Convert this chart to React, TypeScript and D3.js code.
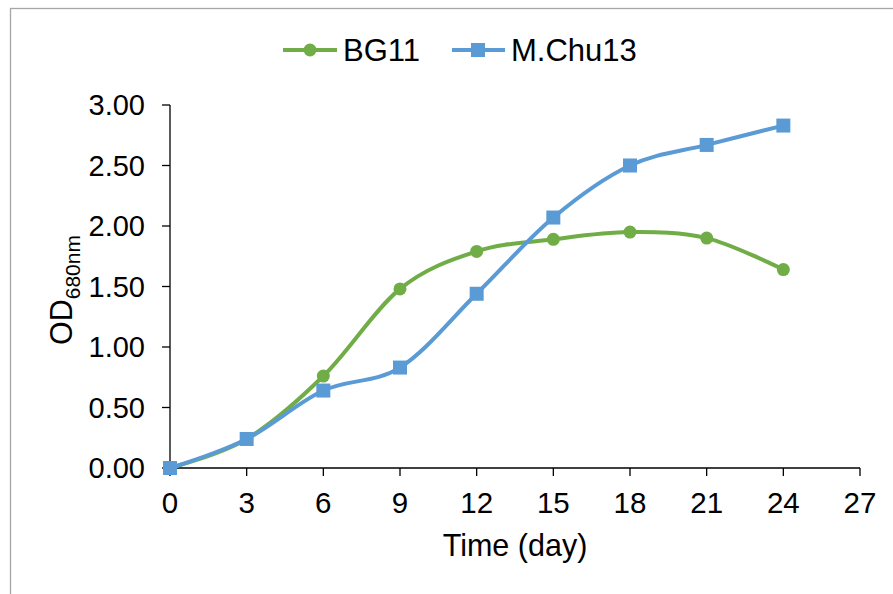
import React from "react";
import * as d3 from "d3";

const days = [0, 3, 6, 9, 12, 15, 18, 21, 24];
const bg11 = [0, 0.24, 0.76, 1.48, 1.79, 1.89, 1.95, 1.9, 1.64];
const mchu13 = [0, 0.24, 0.64, 0.83, 1.44, 2.07, 2.5, 2.67, 2.83];
const xTicks = [0, 3, 6, 9, 12, 15, 18, 21, 24, 27];
const yTicks = [0, 0.5, 1, 1.5, 2, 2.5, 3];

const GREEN = "#70AD47";
const BLUE = "#5B9BD5";
const FONT = "Arial, 'Liberation Sans', sans-serif";

const App: React.FC = () => {
  const W = 893;
  const H = 594;
  const x = d3.scaleLinear().domain([0, 27]).range([170, 860]);
  const y = d3.scaleLinear().domain([0, 3]).range([468, 105]);

  const line = d3
    .line<[number, number]>()
    .x((d) => x(d[0]))
    .y((d) => y(d[1]))
    .curve(d3.curveCardinal.tension(0));

  const ptsG = days.map((d, i) => [d, bg11[i]] as [number, number]);
  const ptsB = days.map((d, i) => [d, mchu13[i]] as [number, number]);

  return (
    <svg
      width={W}
      height={H}
      style={{ position: "fixed", left: 0, top: 0, background: "#fff" }}
      fontFamily={FONT}
    >
      <rect x={10.5} y={8.5} width={W + 20} height={H + 20} fill="#fff" stroke="#a6a6a6" strokeWidth={1.3} />

      {/* y axis */}
      <line x1={x(0)} x2={x(0)} y1={y(3)} y2={y(0)} stroke="#000" strokeWidth={1.3} />
      {yTicks.map((t) => (
        <g key={"y" + t}>
          <line x1={x(0) - 8} x2={x(0)} y1={y(t)} y2={y(t)} stroke="#000" strokeWidth={1.3} />
          <text x={145} y={y(t)} dy="0.35em" textAnchor="end" fontSize={29} fill="#000">
            {t.toFixed(2)}
          </text>
        </g>
      ))}

      {/* x axis */}
      <line x1={x(0)} x2={x(27)} y1={y(0)} y2={y(0)} stroke="#000" strokeWidth={1.3} />
      {xTicks.map((t) => (
        <g key={"x" + t}>
          <line x1={x(t)} x2={x(t)} y1={y(0)} y2={y(0) + 8} stroke="#000" strokeWidth={1.3} />
          <text x={x(t)} y={513} textAnchor="middle" fontSize={29.5} fill="#000">
            {t}
          </text>
        </g>
      ))}

      <text x={(x(0) + x(27)) / 2} y={556} textAnchor="middle" fontSize={30.5} fill="#000">
        Time (day)
      </text>
      <text transform={`translate(72, 290) rotate(-90)`} textAnchor="middle" fontSize={30.5} fill="#000">
        OD<tspan fontSize={21} dy={8}>680nm</tspan>
      </text>

      {/* series */}
      <path d={line(ptsG) || ""} fill="none" stroke={GREEN} strokeWidth={4} />
      <path d={line(ptsB) || ""} fill="none" stroke={BLUE} strokeWidth={4} />
      {ptsG.map((p, i) => (
        <circle key={"g" + i} cx={x(p[0])} cy={y(p[1])} r={6.5} fill={GREEN} />
      ))}
      {ptsB.map((p, i) => (
        <rect key={"b" + i} x={x(p[0]) - 7} y={y(p[1]) - 7} width={14} height={14} fill={BLUE} />
      ))}

      {/* legend */}
      <line x1={283} x2={337} y1={50} y2={50} stroke={GREEN} strokeWidth={4} />
      <circle cx={310} cy={50} r={6.5} fill={GREEN} />
      <text x={343} y={61} fontSize={31} fill="#000">BG11</text>
      <line x1={452} x2={505} y1={50} y2={50} stroke={BLUE} strokeWidth={4} />
      <rect x={471} y={43} width={14} height={14} fill={BLUE} />
      <text x={511} y={61} fontSize={31} fill="#000">M.Chu13</text>
    </svg>
  );
};

export default App;
